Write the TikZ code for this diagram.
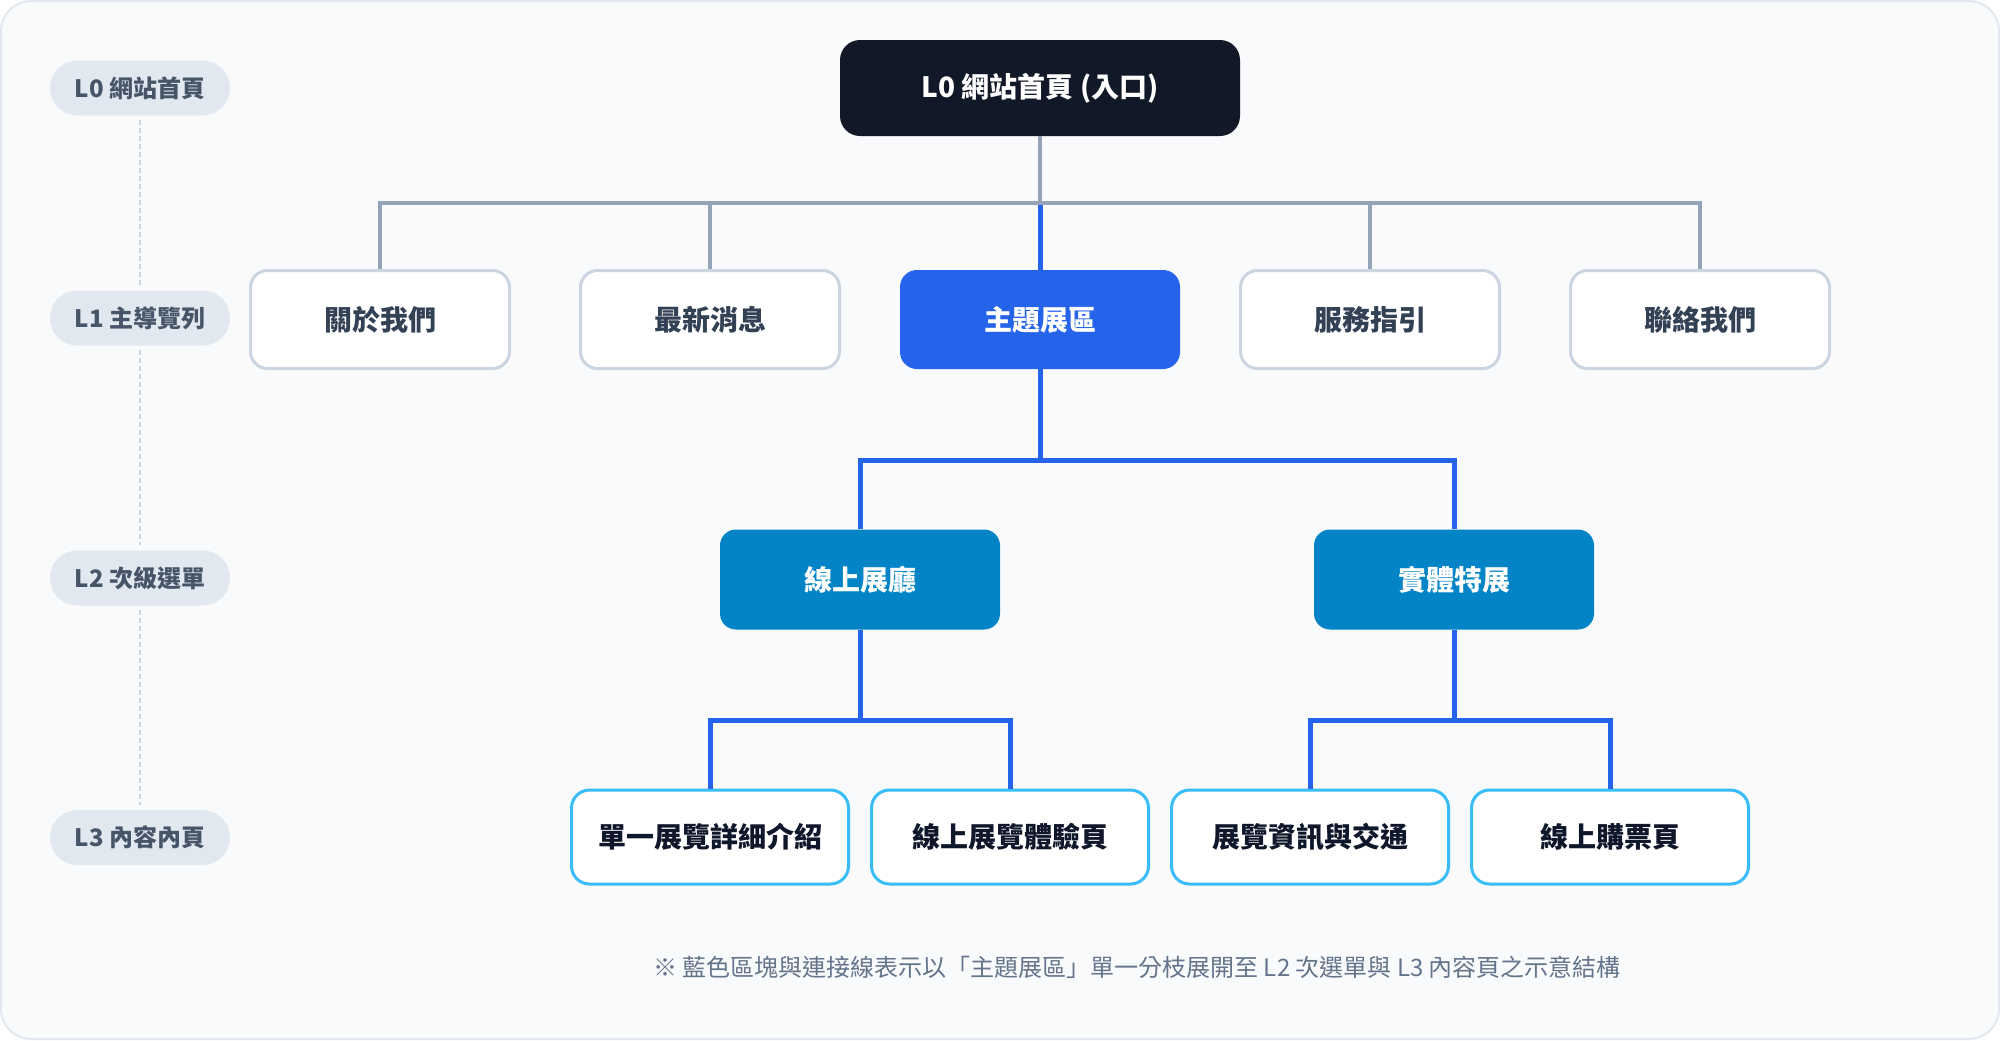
\documentclass[tikz,border=0pt]{standalone}
\usepackage{fontspec}
\setmainfont{Noto Sans CJK TC}
\usetikzlibrary{calc}
\definecolor{panelbg}{HTML}{F8FAFC}
\definecolor{panelbd}{HTML}{E2E8F0}
\definecolor{pillbg}{HTML}{E2E8F0}
\definecolor{pilltx}{HTML}{475569}
\definecolor{rootbg}{HTML}{111827}
\definecolor{graybd}{HTML}{CBD5E1}
\definecolor{navtx}{HTML}{334155}
\definecolor{mainblue}{HTML}{2563EB}
\definecolor{skyfill}{HTML}{0284C7}
\definecolor{skybd}{HTML}{38BDF8}
\definecolor{leaftx}{HTML}{0F172A}
\definecolor{grayln}{HTML}{94A3B8}
\definecolor{notetx}{HTML}{64748B}
\tikzset{
  pill/.style={fill=pillbg, text=pilltx, rounded corners=13.7pt, minimum width=90pt, minimum height=27.5pt, inner sep=0pt, font=\bfseries\fontsize{12pt}{14pt}\selectfont},
  rootbox/.style={fill=rootbg, text=white, rounded corners=10pt, minimum width=200pt, minimum height=48pt, inner sep=0pt, font=\bfseries\fontsize{14pt}{16pt}\selectfont},
  navbox/.style={fill=white, draw=graybd, line width=1.5pt, text=navtx, rounded corners=8.5pt, minimum width=129.5pt, minimum height=49pt, inner sep=0pt, font=\bfseries\fontsize{14pt}{16pt}\selectfont},
  activebox/.style={fill=mainblue, text=white, rounded corners=8.5pt, minimum width=140pt, minimum height=49.5pt, inner sep=0pt, font=\bfseries\fontsize{14pt}{16pt}\selectfont},
  subbox/.style={fill=skyfill, text=white, rounded corners=8pt, minimum width=140pt, minimum height=50pt, inner sep=0pt, font=\bfseries\fontsize{14pt}{16pt}\selectfont},
  leafbox/.style={fill=white, draw=skybd, line width=1.5pt, text=leaftx, rounded corners=9pt, minimum width=138.5pt, minimum height=47pt, inner sep=0pt, font=\bfseries\fontsize{14pt}{16pt}\selectfont},
  grayconn/.style={draw=grayln, line width=1.75pt},
  blueconn/.style={draw=mainblue, line width=2.5pt},
  levelline/.style={draw=graybd, line width=1.25pt, dash pattern=on 2.4pt off 1.6pt, shorten <=2pt, shorten >=2.5pt},
  notetext/.style={text=notetx, inner sep=0pt, font=\fontsize{12pt}{14pt}\selectfont}
}
\begin{document}
\begin{tikzpicture}[x=0.5pt,y=-0.5pt]
\useasboundingbox (0,0) rectangle (2000,1040);
\draw[fill=panelbg, draw=panelbd, line width=1pt, rounded corners=15pt] (1,1) rectangle (1999,1039);

% level pills
\node[pill] (p0) at (140,88) {L0 網站首頁};
\node[pill] (p1) at (140,318) {L1 主導覽列};
\node[pill] (p2) at (140,578) {L2 次級選單};
\node[pill] (p3) at (140,837.5) {L3 內容內頁};
\draw[levelline] (p0.south) -- (p1.north);
\draw[levelline] (p1.south) -- (p2.north);
\draw[levelline] (p2.south) -- (p3.north);

% nodes
\node[rootbox] (root) at (1040,88) {L0 網站首頁 (入口)};
\node[navbox] (a1) at (380,319.5) {關於我們};
\node[navbox] (a2) at (710,319.5) {最新消息};
\node[activebox] (a3) at (1040,319.5) {主題展區};
\node[navbox] (a4) at (1370,319.5) {服務指引};
\node[navbox] (a5) at (1700,319.5) {聯絡我們};

\node[subbox] (b1) at (860,579.5) {線上展廳};
\node[subbox] (b2) at (1454,579.5) {實體特展};

\node[leafbox] (c1) at (710,837) {單一展覽詳細介紹};
\node[leafbox] (c2) at (1010,837) {線上展覽體驗頁};
\node[leafbox] (c3) at (1310,837) {展覽資訊與交通};
\node[leafbox] (c4) at (1610,837) {線上購票頁};

% connectors
\coordinate (bus0) at (1040,203);
\coordinate (bus1) at (1040,460);
\coordinate (bus2) at (860,720);
\coordinate (bus3) at (1454,720);

\draw[blueconn] (bus0) -- (a3.north);
\draw[grayconn] (root.south) -- (bus0);
\draw[grayconn] (bus0) -| (a1.north);
\draw[grayconn] (bus0) -| (a2.north);
\draw[grayconn] (bus0) -| (a4.north);
\draw[grayconn] (bus0) -| (a5.north);

\draw[blueconn] (a3.south) -- (bus1);
\draw[blueconn] (bus1) -| (b1.north);
\draw[blueconn] (bus1) -| (b2.north);

\draw[blueconn] (b1.south) -- (bus2);
\draw[blueconn] (bus2) -| (c1.north);
\draw[blueconn] (bus2) -| (c2.north);
\draw[blueconn] (b2.south) -- (bus3);
\draw[blueconn] (bus3) -| (c3.north);
\draw[blueconn] (bus3) -| (c4.north);

\node[notetext] (note) at (1137,967) {※ 藍色區塊與連接線表示以「主題展區」單一分枝展開至 L2 次選單與 L3 內容頁之示意結構};
\end{tikzpicture}
\end{document}
